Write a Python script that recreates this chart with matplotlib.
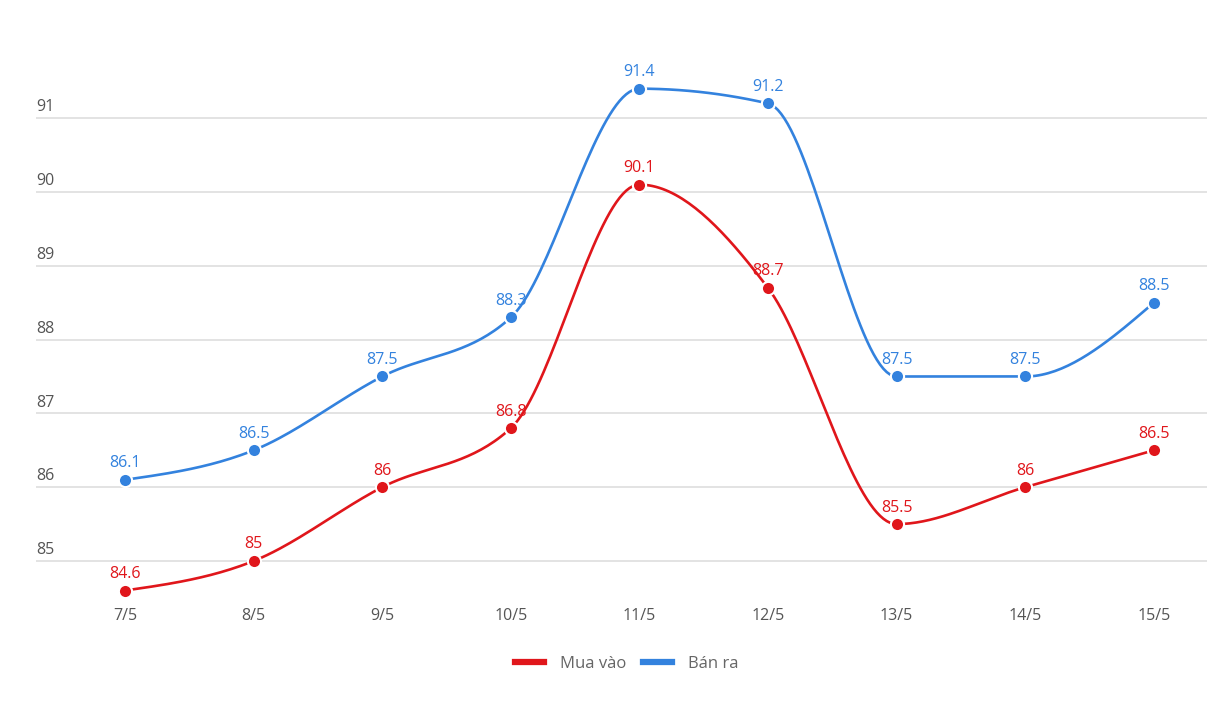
import numpy as np
import matplotlib
matplotlib.use("Agg")
import matplotlib.pyplot as plt
import matplotlib.transforms as mtransforms
from matplotlib.lines import Line2D

categories = ["7/5", "8/5", "9/5", "10/5", "11/5", "12/5", "13/5", "14/5", "15/5"]
mua_vao = [84.6, 85, 86, 86.8, 90.1, 88.7, 85.5, 86, 86.5]
ban_ra = [86.1, 86.5, 87.5, 88.3, 91.4, 91.2, 87.5, 87.5, 88.5]
y_ticks = [85, 86, 87, 88, 89, 90, 91]

RED = "#E0161B"
BLUE = "#3382DE"
FONT = ["Open Sans", "DejaVu Sans"]
plt.rcParams["font.family"] = FONT


def monotone_curve(x, y, n=40):
    """d3 curveMonotoneX-style cubic Hermite rendering of a polyline."""
    x = np.asarray(x, float)
    y = np.asarray(y, float)
    h = np.diff(x)
    s = np.diff(y) / h
    m = np.zeros_like(y)
    for i in range(1, len(y) - 1):
        p = (s[i - 1] * h[i] + s[i] * h[i - 1]) / (h[i - 1] + h[i])
        m[i] = (np.sign(s[i - 1]) + np.sign(s[i])) * min(abs(s[i - 1]), abs(s[i]), 0.5 * abs(p))
    m[0] = (3 * s[0] - m[1]) / 2
    m[-1] = (3 * s[-1] - m[-2]) / 2
    xs, ys = [], []
    for i in range(len(x) - 1):
        t = np.linspace(0, 1, n)
        h00 = 2 * t**3 - 3 * t**2 + 1
        h10 = t**3 - 2 * t**2 + t
        h01 = -2 * t**3 + 3 * t**2
        h11 = t**3 - t**2
        xs.append(x[i] + t * h[i])
        ys.append(h00 * y[i] + h10 * h[i] * m[i] + h01 * y[i + 1] + h11 * h[i] * m[i + 1])
    return np.concatenate(xs), np.concatenate(ys)


fig = plt.figure(figsize=(12.07, 7.13), dpi=100)
ax = fig.add_axes([36 / 1207, 1 - 600 / 713, (1207 - 36) / 1207, 570 / 713])

xpos = np.arange(len(categories))
step = 128.6
ax.set_xlim((36 - 125) / step, (1207 - 125) / step)
ax.set_ylim(85 - (600 - 561) / 73.8, 85 + (561 - 30) / 73.8)

for v in y_ticks:
    ax.axhline(v, color="#DEDEDE", lw=1.2, zorder=0)

for vals, col in ((ban_ra, BLUE), (mua_vao, RED)):
    cx, cy = monotone_curve(xpos, vals)
    ax.plot(cx, cy, color=col, lw=1.9, zorder=2, solid_capstyle="round")
    ax.plot(xpos, vals, "o", color=col, ms=9.5, mec="white", mew=1.5, zorder=3)
    for xi, v in zip(xpos, vals):
        ax.annotate(f"{v:g}", (xi, v), xytext=(0, 9), textcoords="offset points",
                    ha="center", va="baseline", color=col, fontsize=11.5)

for sp in ax.spines.values():
    sp.set_visible(False)
ax.set_yticks([])
ax.set_xticks(xpos)
ax.set_xticklabels(categories, color="#555555", fontsize=11.5)
ax.tick_params(axis="x", length=0, pad=6)

trans = mtransforms.blended_transform_factory(ax.transAxes, ax.transData)
for v in y_ticks:
    ax.annotate(f"{v}", (0, v), xycoords=trans, xytext=(0, 2), textcoords="offset points",
                ha="left", va="bottom", color="#555555", fontsize=11.5)

handles = [Line2D([], [], color=RED, lw=4.5), Line2D([], [], color=BLUE, lw=4.5)]
fig.legend(handles, ["Mua vào", "Bán ra"], loc="center", bbox_to_anchor=(627 / 1207, 1 - 664 / 713),
           ncol=2, frameon=False, fontsize=12, handlelength=1.7, columnspacing=1.0,
           handletextpad=1.0, labelcolor="#666666")

fig.savefig("out.png", dpi=100)
